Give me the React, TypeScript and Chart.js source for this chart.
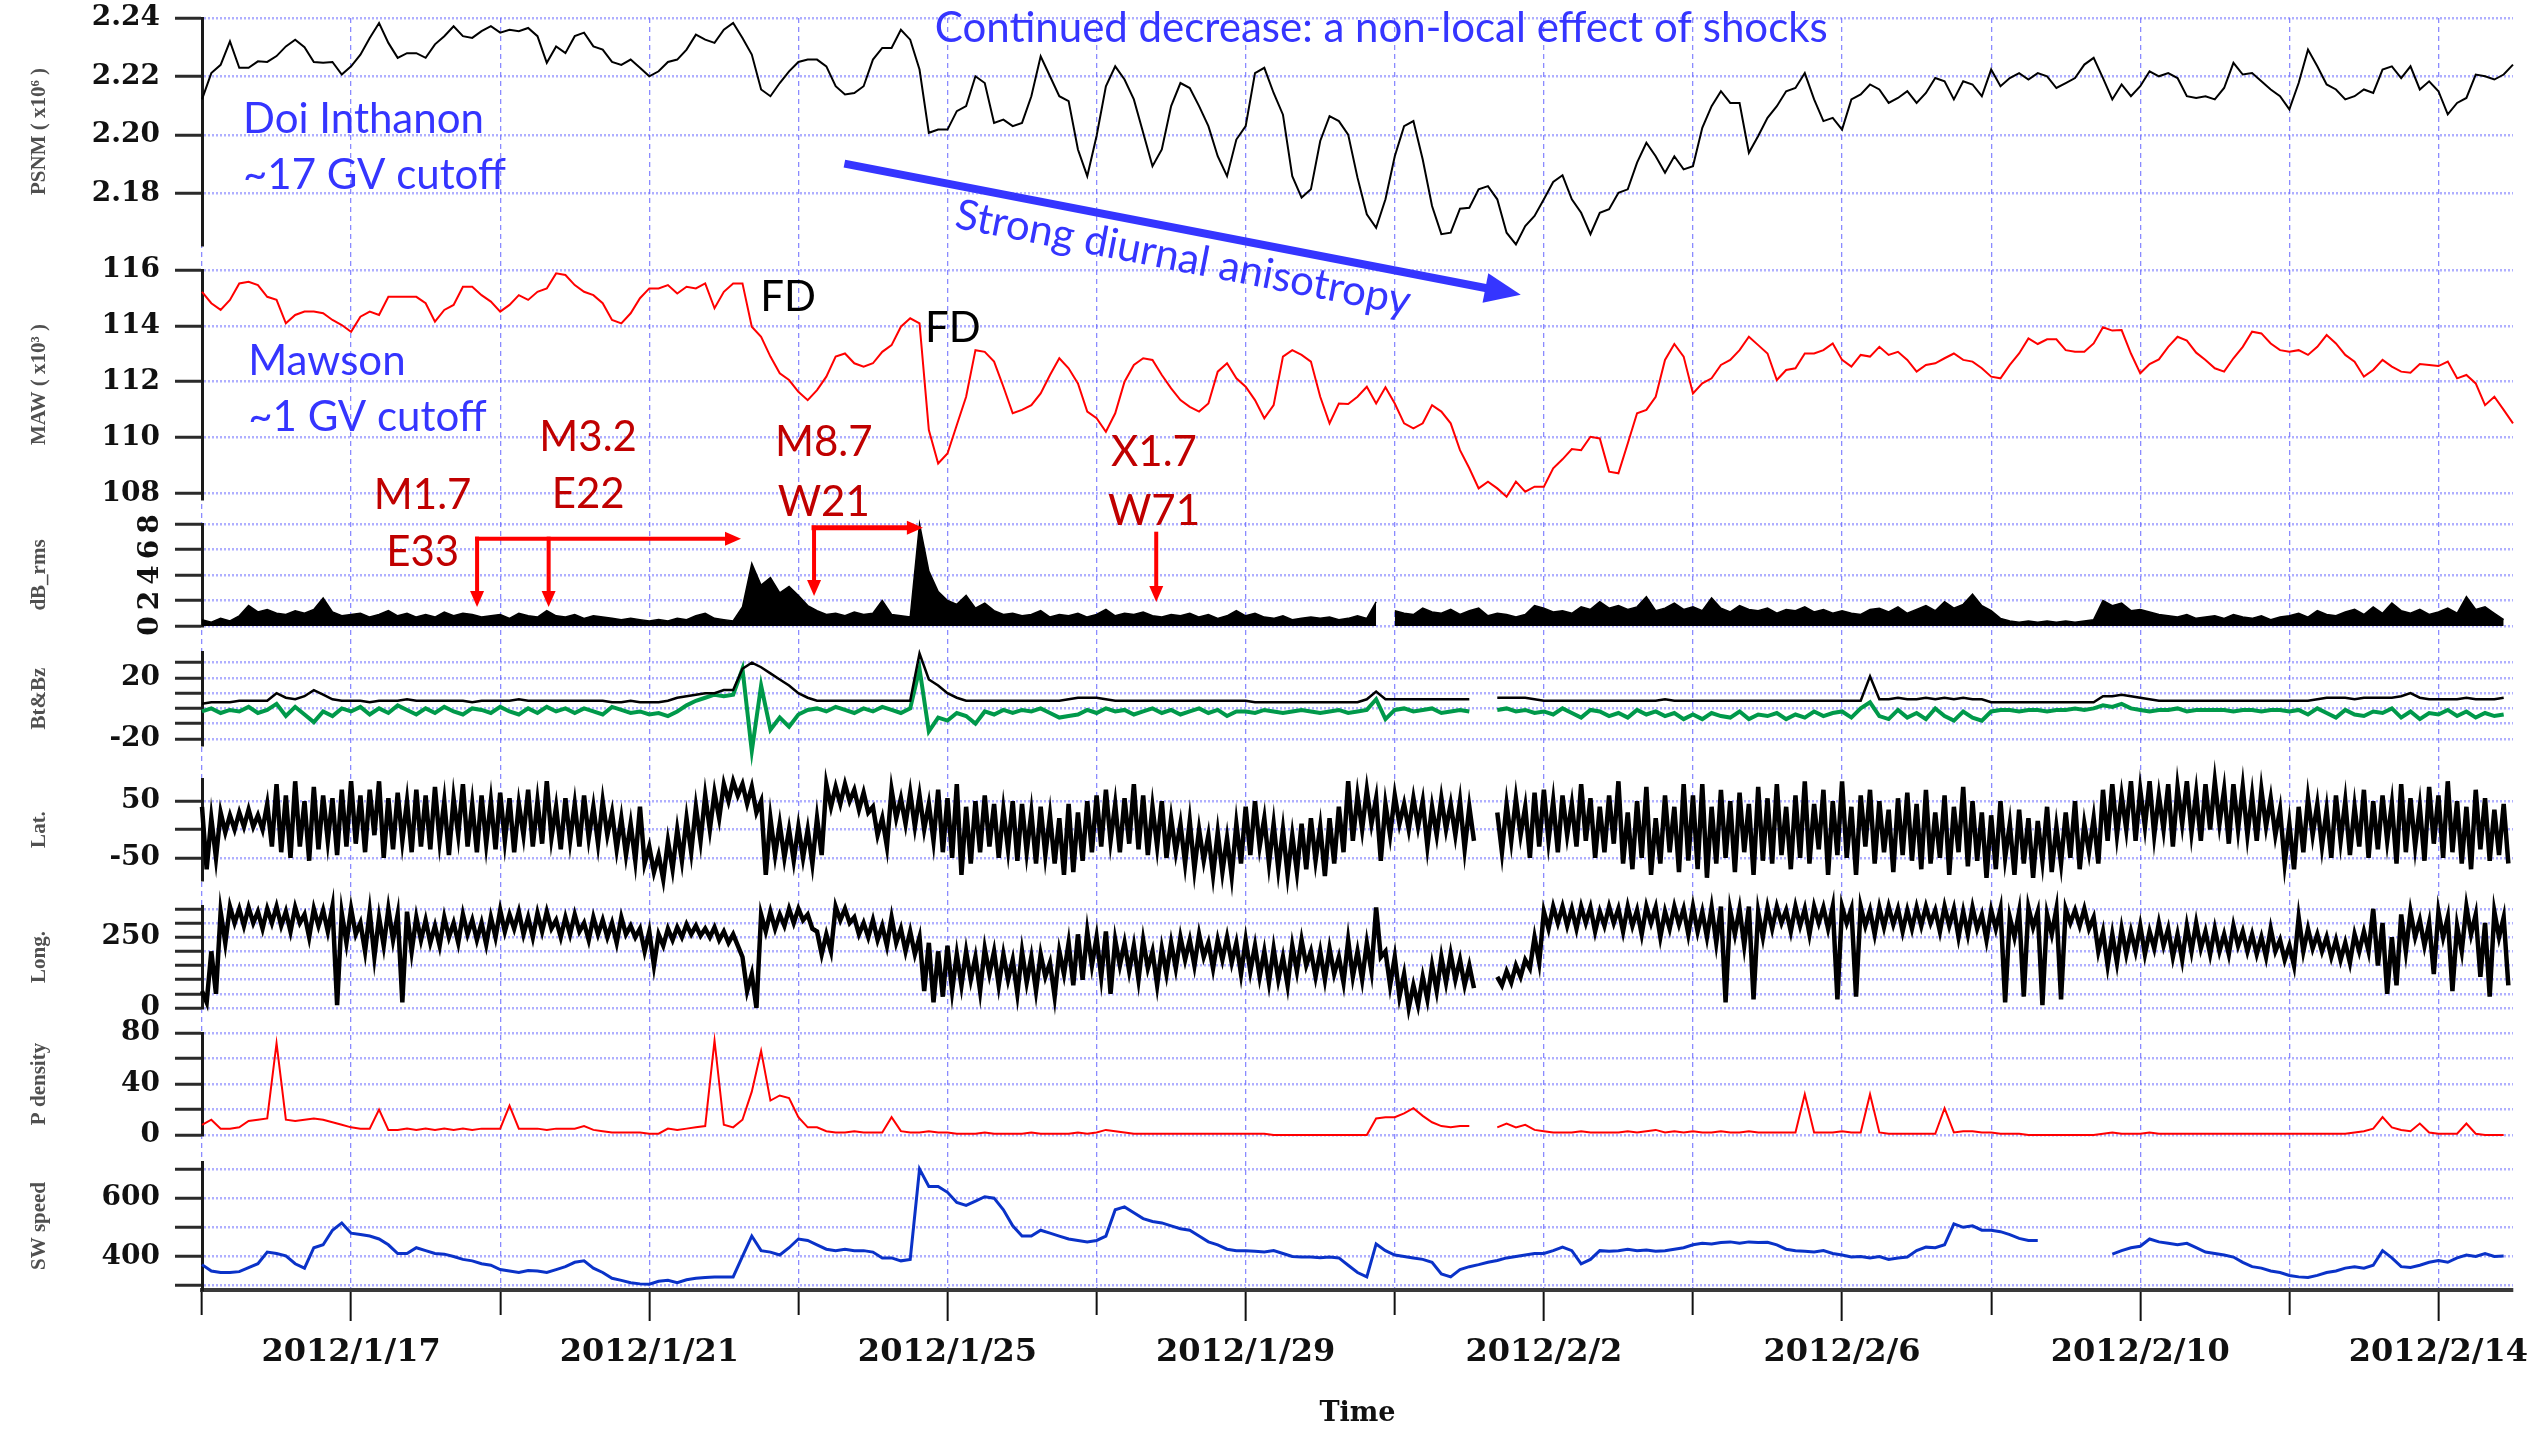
import { useEffect, useRef } from 'react';
import { Chart, registerables } from 'chart.js';

Chart.register(...registerables);

// Time base: days since 2012/1/15 00:00 UT; every series is sampled every 3 hours.
const SAMPLE_STEP = 0.125;
const TIME_MIN = 0;
const TIME_MAX = 31;

const dateTickDays = [2, 6, 10, 14, 18, 22, 26, 30];
const dateTickLabels = ['2012/1/17', '2012/1/21', '2012/1/25', '2012/1/29', '2012/2/2', '2012/2/6', '2012/2/10', '2012/2/14'];
const timeGridDays = [0, 2, 4, 6, 8, 10, 12, 14, 16, 18, 20, 22, 24, 26, 28, 30];

const psnmTicks = [2.18, 2.2, 2.22, 2.24];
const mawTicks = [108, 110, 112, 114, 116];
const dbTicks = [0, 2, 4, 6, 8];
const bTicks = [-20, -10, 0, 10, 20, 30];
const bLabels = [-20, 20];
const latTicks = [-50, 0, 50];
const latLabels = [-50, 50];
const lonTicks = [0, 50, 100, 150, 200, 250, 300, 350];
const lonLabels = [0, 250];
const densityTicks = [0, 20, 40, 60, 80];
const densityLabels = [0, 40, 80];
const speedTicks = [300, 400, 500, 600, 700];
const speedLabels = [400, 600];

const flareClasses = ['M1.7', 'M3.2', 'M8.7', 'X1.7'];
const flareSites = ['E33', 'E22', 'W21', 'W71'];

// Doi Inthanon neutron monitor (x10^6 counts)
const psnm = [
  2.2122, 2.2212, 2.2240, 2.2320, 2.2230, 2.2230, 2.2252, 2.2250, // 1/15
  2.2270, 2.2303, 2.2326, 2.2300, 2.2250, 2.2247, 2.2250, 2.2207,
  2.2235, 2.2275, 2.2332, 2.2383, 2.2315, 2.2264, 2.2280, 2.2280, // 1/17
  2.2264, 2.2310, 2.2338, 2.2372, 2.2338, 2.2332, 2.2355, 2.2372,
  2.2350, 2.2360, 2.2355, 2.2366, 2.2338, 2.2247, 2.2303, 2.2280, // 1/19
  2.2338, 2.2350, 2.2303, 2.2292, 2.2250, 2.2240, 2.2258, 2.2230,
  2.2201, 2.2218, 2.2250, 2.2258, 2.2292, 2.2343, 2.2326, 2.2315, // 1/21
  2.2360, 2.2383, 2.2332, 2.2275, 2.2156, 2.2133, 2.2178, 2.2218,
  2.2250, 2.2258, 2.2258, 2.2235, 2.2167, 2.2139, 2.2144, 2.2167, // 1/23
  2.2258, 2.2298, 2.2298, 2.2360, 2.2326, 2.2224, 2.2008, 2.2019,
  2.2019, 2.2082, 2.2099, 2.2201, 2.2178, 2.2042, 2.2053, 2.2031, // 1/25
  2.2042, 2.2133, 2.2269, 2.2201, 2.2133, 2.2116, 2.1951, 2.1860,
  2.1997, 2.2167, 2.2235, 2.2190, 2.2122, 2.2008, 2.1894, 2.1951, // 1/27
  2.2099, 2.2178, 2.2161, 2.2099, 2.2031, 2.1928, 2.1860, 2.1985,
  2.2031, 2.2212, 2.2230, 2.2144, 2.2070, 2.1860, 2.1787, 2.1815, // 1/29
  2.1980, 2.2065, 2.2048, 2.2002, 2.1855, 2.1730, 2.1684, 2.1781,
  2.1928, 2.2031, 2.2048, 2.1917, 2.1758, 2.1662, 2.1667, 2.1749, // 1/31
  2.1752, 2.1815, 2.1826, 2.1781, 2.1667, 2.1627, 2.1690, 2.1724,
  2.1781, 2.1840, 2.1863, 2.1781, 2.1735, 2.1662, 2.1735, 2.1747, // 2/2
  2.1803, 2.1815, 2.1906, 2.1974, 2.1928, 2.1872, 2.1928, 2.1883,
  2.1894, 2.2025, 2.2099, 2.2150, 2.2110, 2.2110, 2.1940, 2.1997, // 2/4
  2.2059, 2.2099, 2.2150, 2.2161, 2.2212, 2.2122, 2.2048, 2.2059,
  2.2019, 2.2122, 2.2139, 2.2173, 2.2156, 2.2110, 2.2127, 2.2150, // 2/6
  2.2110, 2.2144, 2.2195, 2.2184, 2.2122, 2.2184, 2.2173, 2.2133,
  2.2224, 2.2167, 2.2195, 2.2212, 2.2190, 2.2212, 2.2201, 2.2161, // 2/8
  2.2178, 2.2195, 2.2241, 2.2264, 2.2195, 2.2122, 2.2173, 2.2133,
  2.2167, 2.2218, 2.2201, 2.2212, 2.2195, 2.2133, 2.2127, 2.2133, // 2/10
  2.2122, 2.2161, 2.2247, 2.2207, 2.2212, 2.2184, 2.2156, 2.2133,
  2.2088, 2.2178, 2.2292, 2.2235, 2.2173, 2.2156, 2.2122, 2.2133, // 2/12
  2.2156, 2.2144, 2.2224, 2.2235, 2.2195, 2.2235, 2.2156, 2.2184,
  2.2150, 2.2071, 2.2110, 2.2127, 2.2207, 2.2201, 2.2190, 2.2207, // 2/14
  2.2241,
];

// Mawson neutron monitor (x10^3 counts)
const maw = [
  115.22, 114.81, 114.57, 114.93, 115.52, 115.58, 115.46, 115.04, // 1/15
  114.93, 114.09, 114.39, 114.51, 114.51, 114.45, 114.21, 114.03,
  113.79, 114.33, 114.51, 114.39, 115.04, 115.04, 115.04, 115.04, // 1/17
  114.81, 114.15, 114.57, 114.75, 115.40, 115.40, 115.10, 114.87,
  114.51, 114.75, 115.10, 114.93, 115.22, 115.34, 115.88, 115.82, // 1/19
  115.46, 115.22, 115.10, 114.81, 114.21, 114.09, 114.45, 114.99,
  115.34, 115.34, 115.46, 115.16, 115.40, 115.34, 115.52, 114.63, // 1/21
  115.22, 115.52, 115.52, 113.97, 113.61, 112.90, 112.30, 112.06,
  111.64, 111.34, 111.70, 112.18, 112.90, 113.01, 112.66, 112.54, // 1/23
  112.66, 113.07, 113.31, 113.97, 114.27, 114.09, 110.27, 109.07,
  109.43, 110.45, 111.46, 113.13, 113.07, 112.72, 111.82, 110.87, // 1/25
  110.99, 111.16, 111.58, 112.24, 112.84, 112.48, 111.94, 110.93,
  110.69, 110.21, 110.87, 112.00, 112.60, 112.84, 112.78, 112.24, // 1/27
  111.76, 111.34, 111.10, 110.93, 111.22, 112.36, 112.66, 112.12,
  111.82, 111.34, 110.69, 111.16, 112.90, 113.13, 112.96, 112.72, // 1/29
  111.46, 110.51, 111.22, 111.20, 111.46, 111.82, 111.22, 111.80,
  111.22, 110.51, 110.33, 110.51, 111.16, 110.93, 110.51, 109.55, // 1/31
  108.90, 108.18, 108.42, 108.18, 107.88, 108.42, 108.06, 108.24,
  108.24, 108.90, 109.22, 109.59, 109.55, 110.03, 109.97, 108.78, // 2/2
  108.72, 109.79, 110.87, 110.99, 111.46, 112.78, 113.35, 112.90,
  111.58, 111.94, 112.12, 112.60, 112.78, 113.13, 113.61, 113.31, // 2/4
  113.01, 112.06, 112.42, 112.48, 113.01, 113.01, 113.13, 113.37,
  112.78, 112.54, 112.96, 112.90, 113.25, 112.96, 113.07, 112.78, // 2/6
  112.36, 112.60, 112.66, 112.84, 113.01, 112.78, 112.72, 112.48,
  112.18, 112.12, 112.60, 113.01, 113.55, 113.35, 113.52, 113.52, // 2/8
  113.13, 113.07, 113.07, 113.37, 113.95, 113.83, 113.85, 113.01,
  112.30, 112.63, 112.80, 113.25, 113.61, 113.47, 113.04, 112.78, // 2/10
  112.48, 112.36, 112.84, 113.25, 113.79, 113.73, 113.37, 113.13,
  113.07, 113.13, 112.96, 113.25, 113.67, 113.37, 112.96, 112.72, // 2/12
  112.18, 112.42, 112.78, 112.54, 112.36, 112.32, 112.63, 112.60,
  112.56, 112.72, 112.12, 112.24, 111.94, 111.16, 111.46, 110.99, // 2/14
  110.51,
];

// IMF fluctuation dB_rms (nT)
const dbRms = [
  0.5, 0.3, 0.6, 0.4, 0.8, 1.6, 1.1, 1.3, // 1/15
  1.0, 0.9, 1.2, 1.0, 1.3, 2.2, 1.1, 0.8,
  0.9, 1.0, 0.7, 0.9, 1.2, 0.8, 1.0, 0.7, // 1/17
  0.9, 0.7, 1.1, 0.8, 1.0, 0.9, 0.7, 0.8,
  0.9, 0.6, 1.0, 0.8, 0.7, 1.2, 0.8, 0.7, // 1/19
  0.9, 0.6, 0.8, 0.7, 0.6, 0.5, 0.6, 0.5,
  0.4, 0.5, 0.4, 0.6, 0.5, 0.8, 1.0, 0.6, // 1/21
  0.5, 0.4, 1.5, 4.9, 3.2, 3.8, 2.6, 3.1,
  2.4, 1.6, 1.2, 0.9, 1.0, 0.8, 1.1, 0.9, // 1/23
  1.0, 2.0, 0.9, 0.8, 0.7, 8.0, 4.3, 2.7,
  2.0, 1.7, 2.4, 1.4, 1.8, 1.2, 0.9, 1.0, // 1/25
  0.8, 0.9, 1.2, 0.7, 0.9, 0.8, 1.0, 0.7,
  0.9, 1.3, 0.8, 1.0, 0.9, 1.1, 0.8, 0.7, // 1/27
  0.9, 0.8, 1.0, 0.7, 0.9, 0.6, 0.8, 1.2,
  0.8, 1.0, 0.7, 0.6, 0.8, 0.5, 0.6, 0.7, // 1/29
  0.6, 0.7, 0.5, 0.6, 0.8, 0.6, 1.9, null,
  1.2, 1.0, 0.9, 1.4, 1.1, 1.0, 1.3, 0.9, // 1/31
  1.2, 1.4, 0.8, 1.0, 0.9, 0.7, 0.9, 1.6,
  1.4, 1.1, 1.2, 1.0, 1.5, 1.3, 1.9, 1.4, // 2/2
  1.6, 1.3, 1.5, 2.3, 1.2, 1.4, 1.8, 1.3,
  1.5, 1.2, 2.2, 1.4, 1.1, 1.6, 1.3, 1.2, // 2/4
  1.4, 1.0, 1.3, 1.2, 1.5, 1.1, 1.3, 1.0,
  1.2, 1.0, 0.9, 1.3, 1.4, 1.1, 1.5, 1.0, // 2/6
  1.3, 1.6, 1.2, 1.9, 1.4, 1.7, 2.5, 1.6,
  1.2, 0.6, 0.4, 0.3, 0.4, 0.3, 0.4, 0.3, // 2/8
  0.4, 0.3, 0.4, 0.5, 2.0, 1.6, 1.8, 1.2,
  1.3, 1.1, 0.9, 0.8, 0.7, 0.9, 0.6, 0.7, // 2/10
  0.8, 0.6, 0.9, 0.7, 0.6, 0.8, 0.5, 0.7,
  0.8, 1.0, 0.7, 1.2, 0.9, 0.8, 1.1, 1.3, // 2/12
  0.9, 1.5, 1.0, 1.8, 1.2, 1.0, 1.3, 0.9,
  1.1, 1.4, 1.0, 2.3, 1.3, 1.5, 1.0, 0.5, // 2/14
];

// IMF magnitude Bt and north-south component Bz (nT)
const bt = [
  3, 4, 4, 4, 5, 5, 5, 5,
  10, 7, 6, 8, 12, 9, 6, 5,
  5, 5, 4, 5, 5, 5, 6, 5,
  5, 5, 5, 5, 5, 4, 5, 5,
  5, 5, 6, 5, 5, 5, 5, 5,
  5, 5, 5, 5, 4, 4, 5, 4,
  4, 4, 5, 7, 8, 9, 10, 10,
  12, 12, 26, 30, 27, 23, 19, 15,
  10, 7, 5, 5, 5, 5, 5, 5,
  5, 5, 5, 5, 5, 36, 19, 15,
  10, 7, 5, 5, 5, 5, 5, 5,
  5, 5, 5, 5, 5, 6, 7, 7,
  7, 6, 5, 5, 5, 5, 5, 5,
  5, 5, 5, 5, 5, 5, 5, 5,
  5, 4, 4, 4, 4, 4, 4, 4,
  4, 4, 4, 4, 4, 6, 11, 6,
  6, 6, 6, 6, 6, 6, 6, 6,
  6, null, null, 7, 7, 7, 7, 6,
  5, 5, 5, 5, 5, 5, 5, 5,
  5, 5, 5, 5, 5, 6, 5, 5,
  5, 5, 5, 5, 5, 5, 5, 5,
  5, 5, 5, 5, 5, 5, 5, 5,
  5, 5, 5, 21, 6, 6, 7, 6,
  6, 7, 6, 7, 6, 7, 6, 6,
  4, 4, 4, 4, 4, 4, 4, 4,
  4, 4, 4, 4, 8, 8, 9, 8,
  7, 6, 5, 5, 5, 5, 5, 5,
  5, 5, 5, 5, 5, 5, 5, 5,
  5, 5, 5, 6, 7, 7, 7, 6,
  7, 7, 7, 7, 8, 10, 7, 6,
  6, 6, 6, 7, 6, 6, 6, 7,
];

const bz = [
  -2, 0, -3, -1, -2, 1, -3, -1,
  3, -5, 1, -4, -9, -2, -5, 0,
  -2, 1, -4, 0, -3, 2, -1, -4,
  0, -3, 1, -2, -4, 0, -1, -3,
  1, -2, -4, 0, -3, 1, -2, 0,
  -3, 0, -2, -4, 1, -1, -3, -2,
  -4, -3, -5, -2, 2, 5, 7, 9,
  8, 9, 26, -28, 15, -14, -6, -12,
  -4, -1, 0, -2, 1, -1, -3, 0,
  -2, 1, -1, -3, 0, 26, -15, -6,
  -8, -3, -5, -10, -2, -4, -1, -3,
  -1, -2, 0, -3, -6, -5, -4, -1,
  -3, 0, -2, -1, -4, -2, 0, -3,
  -1, -4, -2, 0, -3, -1, -5, -2,
  -2, -3, -1, -2, -3, -2, -1, -2,
  -3, -2, -1, -3, -2, -1, 6, -7,
  -1, 0, -2, -1, 0, -3, -2, -1,
  -2, null, null, -1, 0, -2, -1, -3,
  -2, -4, 0, -3, -6, -1, -2, -5,
  -3, -6, -1, -4, -2, -5, -3, -7,
  -4, -7, -3, -5, -6, -2, -7, -4,
  -5, -3, -7, -4, -6, -2, -5, -3,
  -2, -6, 0, 4, -5, -7, -1, -6,
  -3, -7, 0, -5, -8, -2, -6, -8,
  -2, -1, -1, -2, -1, -1, -2, -1,
  -1, 0, -1, 0, 2, 1, 3, 0,
  -1, -2, -1, -1, 0, -2, -1, -1,
  -1, -1, -2, -1, -1, -2, -1, -1,
  -2, -1, -4, 0, -3, -6, -1, -4,
  -5, -2, -3, 0, -6, -2, -7, -3,
  -4, -1, -5, -2, -6, -3, -5, -4,
];

// IMF latitude angle: upper / lower extent within each 3-hour bin (deg)
const latHigh = [
  40, 20, 30, 25, 30, 35, 25, 45,
  80, 60, 85, 50, 75, 60, 55, 70,
  85, 60, 70, 85, 55, 65, 50, 70,
  60, 75, 50, 55, 80, 45, 60, 50,
  65, 55, 45, 70, 50, 85, 40, 55,
  45, 60, 40, 50, 30, 20, 10, 40,
  -30, -45, -20, 0, 20, 40, 60, 65,
  80, 85, 80, 75, 50, 20, 10, 0,
  5, 0, 20, 80, 75, 80, 70, 65,
  40, 20, 70, 55, 65, 60, 45, 70,
  55, 80, 40, 50, 60, 45, 35, 50,
  45, 30, 40, 25, 20, 45, 30, 50,
  60, 70, 45, 55, 80, 60, 40, 50,
  20, 10, 15, 0, -10, -5, -15, 10,
  40, 50, 20, 10, 0, -10, 10, 20,
  5, 20, 40, 85, 60, 70, 55, 45,
  60, 45, 55, 50, 40, 55, 45, 50,
  40, null, null, 30, 45, 55, 40, 65,
  70, 50, 60, 45, 80, 55, 40, 60,
  85, 30, 50, 75, 20, 60, 40, 80,
  60, 80, 40, 70, 50, 65, 45, 75,
  55, 80, 40, 60, 85, 45, 70, 50,
  85, 40, 60, 70, 50, 35, 55, 65,
  45, 70, 30, 60, 40, 75, 50, 30,
  25, 50, 10, 35, 20, 15, 40, 5,
  30, 50, 10, 20, 70, 80, 60, 85,
  70, 85, 60, 80, 75, 85, 65, 80,
  85, 70, 80, 75, 60, 70, 55, 35,
  10, 40, 55, 45, 35, 60, 50, 40,
  70, 50, 60, 45, 80, 55, 40, 75,
  60, 85, 50, 40, 70, 55, 35, 45,
];
const latLow = [
  -70, -50, -5, 0, 5, 5, 0, -30,
  -40, -50, -30, -55, -35, -20, -45, -30,
  -25, -40, -10, -50, -35, -20, -40, -30,
  -35, -20, -45, -10, -30, -40, -25, -35,
  -20, -40, -10, -30, -25, -15, -35, -20,
  -30, -15, -25, -10, -35, -45, -55, -60,
  -75, -88, -70, -55, -40, -20, 0, 20,
  50, 60, 45, 30, -80, -45, -50, -55,
  -50, -60, -45, 40, 45, 50, 35, 30,
  -10, -30, 20, 10, 5, 0, -20, -40,
  -50, -80, -60, -40, -30, -50, -35, -55,
  -40, -60, -45, -60, -80, -75, -55, -40,
  -30, -20, -40, -25, -35, -45, -30, -50,
  -40, -60, -70, -55, -80, -75, -82, -60,
  -45, -30, -60, -70, -80, -75, -70, -55,
  -82, -60, -40, -20, 0, 10, -55, -10,
  10, 0, 5, -30, -10, 0, -10, -35,
  -20, null, null, -40, -20, -10, -50, -30,
  -20, -40, -10, -30, -20, -50, -40, -25,
  -60, -70, -50, -80, -60, -40, -75, -55,
  -70, -85, -60, -50, -75, -40, -80, -55,
  -60, -45, -70, -50, -60, -35, -80, -45,
  -50, -80, -30, -60, -40, -75, -45, -55,
  -70, -60, -50, -80, -40, -65, -55, -85,
  -70, -50, -80, -60, -85, -55, -75, -60,
  -50, -70, -40, -60, -20, -10, 0, -20,
  5, -10, 0, -30, 10, -5, -20, 0,
  10, -25, 0, -10, -20, 5, -10, -60,
  -70, -40, -10, -30, -50, -20, -45, -30,
  -50, -35, -20, -60, -40, -30, -55, -25,
  -50, -40, -60, -70, -35, -55, -45, -60,
];

// IMF longitude angle: upper / lower extent within each 3-hour bin (deg)
const lonHigh = [
  60, 200, 340, 358, 350, 355, 340, 350,
  358, 340, 355, 330, 350, 345, 358, 335,
  350, 300, 340, 320, 350, 330, 340, 320,
  310, 290, 320, 300, 330, 310, 300, 320,
  345, 330, 340, 320, 335, 340, 310, 320,
  330, 300, 320, 310, 300, 320, 290, 280,
  270, 260, 280, 285, 295, 290, 280, 285,
  270, 260, 180, 120, 330, 340, 330, 350,
  350, 330, 270, 260, 358, 350, 320, 300,
  310, 290, 320, 280, 270, 250, 230, 200,
  220, 190, 200, 180, 210, 200, 190, 170,
  200, 180, 190, 160, 200, 230, 260, 270,
  250, 270, 240, 230, 220, 240, 200, 210,
  230, 250, 240, 260, 230, 240, 250, 230,
  240, 220, 200, 210, 180, 220, 240, 200,
  200, 210, 180, 240, 200, 230, 355, 200,
  180, 120, 80, 110, 150, 180, 190, 170,
  150, null, null, 110, 130, 150, 170, 250,
  340, 358, 358, 350, 358, 355, 340, 358,
  350, 358, 345, 358, 355, 340, 358, 350,
  358, 340, 355, 358, 345, 350, 358, 340,
  355, 358, 345, 358, 350, 358, 355, 358,
  358, 350, 358, 345, 355, 358, 350, 345,
  355, 358, 345, 358, 350, 340, 355, 330,
  345, 350, 320, 340, 355, 340, 330, 350,
  350, 345, 350, 320, 270, 260, 280, 270,
  290, 270, 300, 280, 260, 290, 300, 270,
  280, 260, 290, 270, 260, 250, 280, 240,
  220, 320, 280, 260, 250, 240, 230, 260,
  270, 350, 300, 250, 330, 340, 310, 300,
  340, 320, 290, 358, 330, 300, 340, 320,
];
const lonLow = [
  20, 50, 230, 300, 290, 300, 280, 300,
  290, 270, 300, 250, 290, 270, 10, 230,
  260, 200, 180, 220, 240, 20, 200, 240,
  230, 220, 250, 230, 260, 240, 225, 250,
  270, 280, 260, 250, 270, 280, 250, 260,
  270, 240, 260, 250, 230, 260, 250, 200,
  150, 220, 240, 250, 260, 255, 250, 240,
  230, 220, 60, 0, 270, 280, 290, 300,
  310, 280, 190, 200, 310, 300, 260, 250,
  240, 220, 230, 200, 190, 60, 20, 40,
  60, 80, 100, 60, 120, 80, 100, 50,
  90, 60, 110, 40, 120, 80, 100, 150,
  110, 50, 150, 130, 100, 140, 80, 120,
  140, 170, 150, 180, 140, 170, 160, 120,
  130, 110, 90, 100, 80, 130, 150, 110,
  100, 120, 90, 110, 100, 130, 180, 80,
  40, 0, 10, 30, 60, 90, 100, 80,
  70, null, null, 80, 90, 110, 140, 160,
  280, 300, 290, 280, 300, 270, 290, 300,
  270, 290, 260, 300, 250, 280, 295, 260,
  270, 250, 230, 20, 260, 220, 30, 250,
  280, 300, 270, 290, 260, 300, 280, 30,
  300, 40, 290, 260, 285, 295, 270, 280,
  290, 300, 270, 290, 250, 260, 280, 240,
  280, 20, 250, 40, 285, 10, 260, 30,
  300, 290, 280, 200, 150, 160, 190, 200,
  190, 210, 220, 180, 170, 200, 210, 190,
  200, 190, 220, 200, 190, 180, 200, 170,
  150, 200, 210, 200, 180, 170, 160, 200,
  200, 150, 50, 80, 200, 250, 220, 120,
  250, 60, 200, 260, 110, 40, 250, 80,
];

// Solar wind proton density (cm^-3)
const pDensity = [
  8, 12, 5, 5, 6, 11, 12, 13,
  72, 12, 11, 12, 13, 12, 10, 8,
  6, 5, 5, 20, 4, 4, 5, 4,
  5, 4, 5, 4, 5, 4, 5, 5,
  5, 23, 5, 5, 5, 4, 5, 5,
  5, 7, 4, 3, 2, 2, 2, 2,
  1, 1, 5, 4, 5, 6, 7, 74,
  8, 6, 12, 34, 66, 27, 31, 29,
  14, 6, 6, 3, 2, 2, 3, 2,
  2, 2, 14, 3, 2, 2, 3, 2,
  2, 1, 1, 1, 2, 1, 1, 1,
  1, 2, 1, 1, 1, 1, 2, 1,
  2, 4, 3, 2, 1, 1, 1, 1,
  1, 1, 1, 1, 1, 1, 1, 1,
  1, 1, 1, 0, 0, 0, 0, 0,
  0, 0, 0, 0, 0, 0, 13, 14,
  14, 17, 21, 15, 10, 7, 6, 7,
  7, null, null, 6, 9, 6, 8, 4,
  3, 2, 2, 2, 3, 2, 2, 2,
  2, 3, 2, 3, 4, 2, 3, 2,
  3, 2, 2, 3, 2, 2, 3, 2,
  2, 2, 2, 2, 32, 2, 2, 2,
  3, 2, 2, 32, 2, 1, 1, 1,
  1, 1, 1, 21, 2, 3, 3, 2,
  2, 1, 1, 1, 0, 0, 0, 0,
  0, 0, 0, 0, 1, 2, 1, 1,
  1, 2, 1, 1, 1, 1, 1, 1,
  1, 1, 1, 1, 1, 1, 1, 1,
  1, 1, 1, 1, 1, 1, 1, 2,
  3, 5, 14, 6, 4, 3, 9, 2,
  1, 1, 1, 9, 1, 0, 0, 0,
];

// Solar wind bulk speed (km/s)
const swSpeed = [
  372, 350, 345, 345, 348, 362, 375, 415,
  410, 402, 375, 360, 430, 440, 490, 515,
  480, 475, 470, 460, 440, 410, 410, 430,
  420, 410, 408, 400, 390, 385, 375, 370,
  355, 350, 345, 352, 350, 345, 355, 365,
  380, 385, 360, 345, 325, 318, 310, 306,
  305, 315, 318, 310, 320, 325, 328, 330,
  330, 330, 400, 470, 420, 415, 405, 430,
  460, 455, 440, 425, 420, 425, 420, 420,
  415, 395, 395, 385, 390, 700, 640, 640,
  620, 585, 575, 590, 605, 600, 560, 505,
  470, 470, 490, 480, 470, 460, 455, 450,
  455, 470, 560, 570, 550, 530, 520, 515,
  505, 495, 490, 470, 450, 440, 425, 420,
  420, 418, 415, 420, 410, 400, 398, 398,
  396, 398, 395, 370, 345, 330, 443, 420,
  405, 400, 395, 390, 380, 340, 330, 355,
  365, 372, 380, 386, 395, 400, 405, 410,
  410, 420, 432, 420, 375, 390, 420, 418,
  420, 425, 420, 422, 418, 420, 425, 430,
  440, 445, 443, 448, 450, 445, 450, 448,
  449, 440, 425, 420, 418, 415, 420, 410,
  405, 398, 400, 395, 400, 390, 395, 398,
  420, 432, 430, 440, 512, 500, 505, 490,
  490, 485, 475, 462, 455, 455, null, null,
  null, null, null, null, null, 408, 420, 430,
  435, 460, 450, 445, 440, 445, 430, 415,
  410, 405, 398, 380, 365, 360, 350, 345,
  335, 330, 328, 335, 345, 350, 360, 365,
  360, 370, 420, 395, 365, 362, 370, 380,
  386, 380, 395, 405, 400, 410, 400, 402,
];

const byStep = (values: (number | null)[]) => values.map((v, i) => ({ x: i * SAMPLE_STEP, y: v }));
// upper then lower extent of each bin, so the trace sweeps across the spread of the scatter
const spread = (hi: (number | null)[], lo: (number | null)[]) =>
  hi.flatMap((h, i) => [
    { x: i * SAMPLE_STEP, y: h },
    { x: i * SAMPLE_STEP + SAMPLE_STEP / 2, y: lo[i] },
  ]);

const AXIS_WIDTH = 202;
const H_GRID = 'rgba(110, 110, 255, 0.55)';
const V_GRID = 'rgba(90, 90, 255, 0.7)';
const TICK_FONT = { family: 'DejaVu Serif', size: 28, weight: 'bold' as const };
const TITLE_FONT = { family: 'Liberation Serif', size: 21, weight: 'bold' as const };
const NOTE_FONT = '42px Lato';
const NOTE_BLUE = '#3535ff';
const FLARE_TEXT = '#c00000';
const FLARE_ARROW = '#ff0000';

type PanelSpec = {
  order: number;
  height: number;
  min: number;
  max: number;
  ticks: number[];
  label: (v: number) => string;
  title: string;
  rotateLabels?: boolean;
};

const panelAxis = (p: PanelSpec) => ({
  type: 'linear',
  position: 'left',
  stack: 'panels',
  stackWeight: p.height,
  weight: p.order,
  min: p.min,
  max: p.max,
  afterBuildTicks: (s: any) => {
    s.ticks = p.ticks.map((value) => ({ value }));
  },
  afterFit: (s: any) => {
    s.width = AXIS_WIDTH;
    s.paddingTop = 0;
    s.paddingBottom = 0;
  },
  ticks: {
    autoSkip: false,
    padding: 15,
    color: '#111',
    font: TICK_FONT,
    minRotation: p.rotateLabels ? 90 : 0,
    maxRotation: p.rotateLabels ? 90 : 0,
    crossAlign: p.rotateLabels ? 'center' : 'near',
    callback: (v: any) => p.label(Number(v)),
  },
  grid: {
    color: H_GRID,
    lineWidth: 2.5,
    drawTicks: true,
    tickLength: 27,
    tickWidth: 3,
    tickColor: '#2a2a2a',
  },
  border: { display: true, color: '#1a1a1a', width: 3, dash: [2, 2] },
  title: { display: true, text: p.title, color: '#505050', font: TITLE_FONT, padding: { top: 27, bottom: 0 } },
});

const spacer = (order: number, height: number) => ({
  type: 'linear',
  position: 'left',
  stack: 'panels',
  stackWeight: height,
  weight: order,
  display: false,
});

const only = (list: number[]) => (v: number) => (list.includes(v) ? String(v) : '');

function arrow(ctx: CanvasRenderingContext2D, x1: number, y1: number, x2: number, y2: number,
  width: number, headLen: number, headWidth: number, color: string) {
  const ang = Math.atan2(y2 - y1, x2 - x1);
  const bx = x2 - Math.cos(ang) * headLen;
  const by = y2 - Math.sin(ang) * headLen;
  ctx.strokeStyle = color;
  ctx.fillStyle = color;
  ctx.lineWidth = width;
  ctx.lineCap = 'square';
  ctx.beginPath();
  ctx.moveTo(x1, y1);
  ctx.lineTo(bx, by);
  ctx.stroke();
  const nx = (-Math.sin(ang) * headWidth) / 2;
  const ny = (Math.cos(ang) * headWidth) / 2;
  ctx.beginPath();
  ctx.moveTo(x2, y2);
  ctx.lineTo(bx + nx, by + ny);
  ctx.lineTo(bx - nx, by - ny);
  ctx.closePath();
  ctx.fill();
}

const notesPlugin = {
  id: 'figureNotes',
  afterDatasetsDraw(chart: any) {
    const { ctx, scales } = chart;
    const tx = (d: number) => scales.x.getPixelForValue(d);
    const yP = (v: number) => scales.yPsnm.getPixelForValue(v);
    const yM = (v: number) => scales.yMaw.getPixelForValue(v);
    const yD = (v: number) => scales.yDb.getPixelForValue(v);

    ctx.save();
    ctx.font = NOTE_FONT;
    ctx.textBaseline = 'middle';
    ctx.textAlign = 'left';
    ctx.fillStyle = NOTE_BLUE;
    ctx.fillText('Continued decrease: a non-local effect of shocks', tx(9.83), yP(2.2364));
    ctx.fillText('Doi Inthanon', tx(0.55), yP(2.2054));
    ctx.fillText('~17 GV cutoff', tx(0.55), yP(2.1863));
    ctx.fillText('Mawson', tx(0.62), yM(112.74));
    ctx.fillText('~1 GV cutoff', tx(0.62), yM(110.73));

    // diurnal anisotropy trend arrow and its slanted caption
    const ax1 = tx(8.67), ay1 = yP(2.19), ax2 = tx(17.69), ay2 = yP(2.1455);
    arrow(ctx, ax1, ay1, ax2, ay2, 8, 36, 30, NOTE_BLUE);
    const ang = Math.atan2(ay2 - ay1, ax2 - ax1);
    ctx.save();
    ctx.translate(tx(13.16), yP(2.158));
    ctx.rotate(ang);
    ctx.textAlign = 'center';
    ctx.fillStyle = NOTE_BLUE;
    ctx.fillText('Strong diurnal anisotropy', 0, 0);
    ctx.restore();

    // Forbush decreases
    ctx.fillStyle = '#000';
    ctx.fillText('FD', tx(7.49), yM(115.0));
    ctx.fillText('FD', tx(9.7), yM(113.92));

    // flare class and location labels
    const labelDays = [2.96, 5.18, 8.34, 12.77];
    const classLevels = [107.94, 110.02, 109.81, 109.45];
    const siteLevels = [105.87, 107.98, 107.69, 107.37];
    ctx.textAlign = 'center';
    ctx.fillStyle = FLARE_TEXT;
    flareClasses.forEach((c, i) => {
      ctx.fillText(c, tx(labelDays[i]), yM(classLevels[i]));
      ctx.fillText(flareSites[i], tx(labelDays[i]), yM(siteLevels[i]));
    });

    // flare-to-shock arrows over the dB_rms panel
    const w = 4, hl = 16, hw = 14;
    arrow(ctx, tx(3.69), yD(6.85), tx(7.23), yD(6.85), w, hl, hw, FLARE_ARROW);
    arrow(ctx, tx(3.69), yD(6.85), tx(3.69), yD(1.5), w, hl, hw, FLARE_ARROW);
    arrow(ctx, tx(4.65), yD(6.85), tx(4.65), yD(1.5), w, hl, hw, FLARE_ARROW);
    arrow(ctx, tx(8.21), yD(7.71), tx(9.67), yD(7.71), w + 1, hl, hw, FLARE_ARROW);
    arrow(ctx, tx(8.21), yD(7.71), tx(8.21), yD(2.36), w, hl, hw, FLARE_ARROW);
    arrow(ctx, tx(12.8), yD(7.24), tx(12.8), yD(1.89), w, hl, hw, FLARE_ARROW);
    ctx.restore();
  },
};

function buildConfig(): any {
  const line = (data: any[], yAxisID: string, color: string, width: number, extra: any = {}) => ({
    data,
    yAxisID,
    xAxisID: 'x',
    borderColor: color,
    backgroundColor: color,
    borderWidth: width,
    pointRadius: 0,
    tension: 0,
    spanGaps: false,
    clip: false,
    ...extra,
  });

  return {
    type: 'line',
    data: {
      datasets: [
        line(byStep(psnm), 'yPsnm', '#000000', 2),
        line(byStep(maw), 'yMaw', '#ff0000', 2),
        line(byStep(dbRms), 'yDb', '#000000', 1.5, { fill: 'origin', backgroundColor: '#000000' }),
        line(byStep(bt), 'yB', '#000000', 2.5),
        line(byStep(bz), 'yB', '#00994a', 4),
        line(spread(latHigh, latLow), 'yLat', '#000000', 4.5),
        line(spread(lonHigh, lonLow), 'yLon', '#000000', 4.5),
        line(byStep(pDensity), 'yDen', '#ff0000', 2),
        line(byStep(swSpeed), 'ySpd', '#0a32c8', 3),
      ],
    },
    options: {
      responsive: false,
      maintainAspectRatio: false,
      animation: false,
      devicePixelRatio: 1,
      events: [],
      normalized: true,
      layout: { autoPadding: false, padding: { top: 18, left: 0, right: 24, bottom: 0 } },
      plugins: { legend: { display: false }, tooltip: { enabled: false }, title: { display: false } },
      scales: {
        x: {
          type: 'linear',
          position: 'bottom',
          min: TIME_MIN,
          max: TIME_MAX,
          afterBuildTicks: (s: any) => {
            s.ticks = timeGridDays.map((value) => ({ value }));
          },
          afterFit: (s: any) => {
            s.height = 150;
            s.paddingLeft = 0;
            s.paddingRight = 0;
          },
          ticks: {
            autoSkip: false,
            maxRotation: 0,
            minRotation: 0,
            padding: 12,
            color: '#111',
            font: { family: 'DejaVu Serif', size: 32, weight: 'bold' },
            callback: (v: any) => {
              const i = dateTickDays.indexOf(Number(v));
              return i >= 0 ? dateTickLabels[i] : '';
            },
          },
          grid: {
            color: V_GRID,
            lineWidth: 1.3,
            drawTicks: true,
            tickLength: 31,
            tickWidth: 2,
            tickColor: '#111',
            tickBorderDash: (c: any) => (c.tick && dateTickDays.includes(c.tick.value) ? [] : [23, 60]),
          },
          border: { display: true, color: '#3a3a3a', width: 4, dash: [5, 4] },
          title: {
            display: true,
            text: 'Time',
            color: '#111',
            font: { family: 'DejaVu Serif', size: 27, weight: 'bold' },
            padding: { top: 0, bottom: 10 },
          },
        },
        yPsnm: panelAxis({ order: 15, height: 227, min: 2.1625, max: 2.24, ticks: psnmTicks, label: (v) => v.toFixed(2), title: 'PSNM ( x10\u2076 )' }),
        gap1: spacer(14, 25),
        yMaw: panelAxis({ order: 13, height: 229, min: 107.8, max: 116, ticks: mawTicks, label: (v) => String(v), title: 'MAW ( x10\u00b3 )' }),
        gap2: spacer(12, 25),
        yDb: panelAxis({ order: 11, height: 102, min: 0, max: 8, ticks: dbTicks, label: (v) => String(v), title: 'dB_rms', rotateLabels: true }),
        gap3: spacer(10, 26),
        yB: panelAxis({ order: 9, height: 93, min: -24, max: 37, ticks: bTicks, label: only(bLabels), title: 'Bt&Bz' }),
        gap4: spacer(8, 34),
        yLat: panelAxis({ order: 7, height: 101, min: -89, max: 89, ticks: latTicks, label: only(latLabels), title: 'Lat.' }),
        gap5: spacer(6, 26),
        yLon: panelAxis({ order: 5, height: 102, min: 0, max: 360, ticks: lonTicks, label: only(lonLabels), title: 'Long.' }),
        gap6: spacer(4, 25),
        yDen: panelAxis({ order: 3, height: 102, min: 0, max: 80, ticks: densityTicks, label: only(densityLabels), title: 'P density' }),
        gap7: spacer(2, 27),
        ySpd: panelAxis({ order: 1, height: 128, min: 285, max: 724, ticks: speedTicks, label: only(speedLabels), title: 'SW speed' }),
      },
    },
    plugins: [notesPlugin],
  };
}

export default function App() {
  const canvasRef = useRef<HTMLCanvasElement | null>(null);

  useEffect(() => {
    let chart: Chart | null = null;
    let cancelled = false;
    const fonts: any = (document as any).fonts;
    const ready = fonts
      ? Promise.all([
          fonts.load(NOTE_FONT),
          fonts.load('bold 28px "DejaVu Serif"'),
          fonts.load('bold 21px "Liberation Serif"'),
        ]).catch(() => null)
      : Promise.resolve(null);
    ready.then(() => {
      if (cancelled || !canvasRef.current) return;
      chart = new Chart(canvasRef.current, buildConfig());
    });
    return () => {
      cancelled = true;
      if (chart) chart.destroy();
    };
  }, []);

  return (
    <div style={{ position: 'fixed', left: 0, top: 0, width: 2537, height: 1440, background: '#ffffff' }}>
      <canvas ref={canvasRef} width={2537} height={1440} style={{ display: 'block', width: 2537, height: 1440 }} />
    </div>
  );
}
